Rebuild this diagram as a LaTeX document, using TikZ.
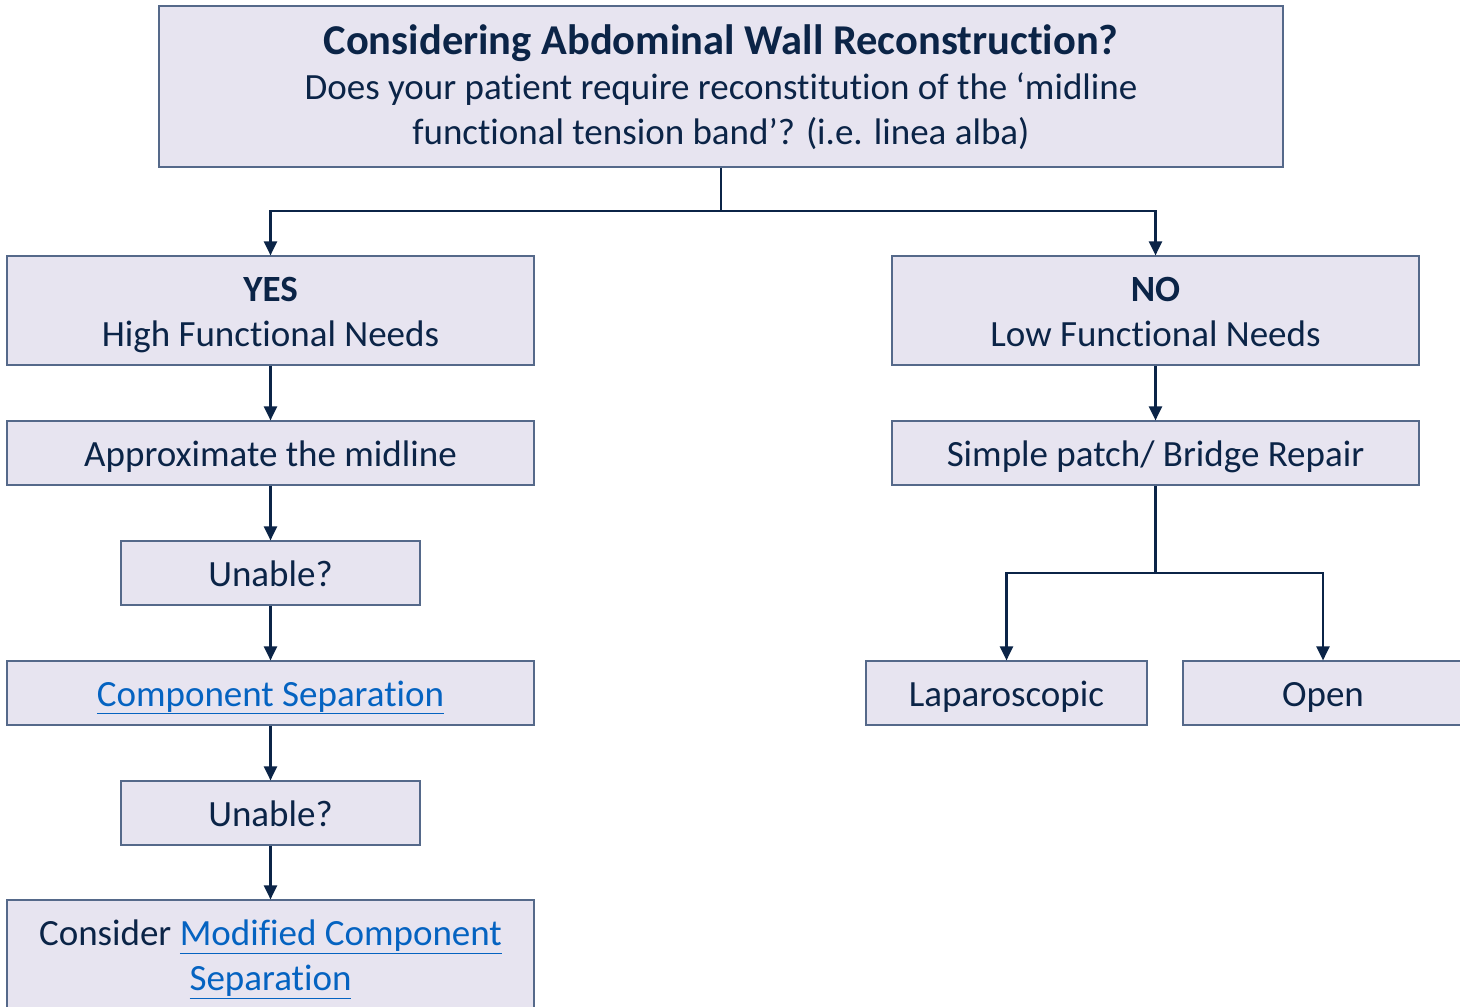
\documentclass[tikz,border=0pt]{standalone}
\usepackage{fontspec}
\setmainfont[Ligatures={NoCommon}]{Carlito}
\usetikzlibrary{arrows.meta}
\definecolor{boxfill}{HTML}{E7E4F0}
\definecolor{boxdraw}{HTML}{55698A}
\definecolor{navy}{HTML}{0B2447}
\definecolor{linkc}{HTML}{0563C1}
\newcommand{\lnk}[1]{\textcolor{linkc}{\underline{#1}}}
\newcommand{\st}{\rule[-9pt]{0pt}{44pt}}
\tikzset{
  box/.style={draw=boxdraw, fill=boxfill, line width=1.2pt, text=navy, align=center,
    inner sep=0pt, font=\fontsize{37}{45}\selectfont},
  arr/.style={draw=navy, line width=2.2pt, -{Triangle[length=14pt,width=13pt]}},
  ln/.style={draw=navy, line width=2.2pt}
}
\begin{document}
\begin{tikzpicture}[x=1pt,y=-1pt]
\useasboundingbox (0,0) rectangle (1460,1007);
\clip (0,0) rectangle (1460,1007);
\node[box, minimum width=1124pt, minimum height=161pt] (top) at (721,86.5)
  {\st{\fontsize{42.5}{45}\selectfont\bfseries Considering Abdominal Wall Reconstruction?}\\\st Does your patient require reconstitution of the ‘midline\\\st functional tension band’? (i.e. linea alba)};
\node[box, minimum width=527pt, minimum height=109pt] (yes) at (270.5,310.5)
  {\st\textbf{YES}\\\st High Functional Needs};
\node[box, minimum width=527pt, minimum height=109pt] (no) at (1155.5,310.5)
  {\st\textbf{NO}\\\st Low Functional Needs};
\node[box, minimum width=527pt, minimum height=64pt] (approx) at (270.5,453)
  {\st Approximate the midline};
\node[box, minimum width=299pt, minimum height=64pt] (un1) at (270.5,573)
  {\st Unable?};
\node[box, minimum width=527pt, minimum height=64pt] (comp) at (270.5,693)
  {\st\lnk{Component Separation}};
\node[box, minimum width=299pt, minimum height=64pt] (un2) at (270.5,813)
  {\st Unable?};
\node[box, minimum width=527pt, minimum height=110pt] (mod) at (270.5,955)
  {\st Consider \lnk{Modified Component}\\\st\lnk{Separation}};
\node[box, minimum width=527pt, minimum height=64pt] (simple) at (1155.5,453)
  {\st Simple patch/ Bridge Repair};
\node[box, minimum width=281pt, minimum height=64pt] (lap) at (1006.5,693)
  {\st Laparoscopic};
\node[box, minimum width=280pt, minimum height=64pt] (open) at (1323,693)
  {\st Open};
\coordinate (j1) at (721,211);
\coordinate (j2) at (1155.5,573);
\draw[ln] (top.south) -- (j1);
\draw[arr] (j1) -| (yes.north);
\draw[arr] (j1) -| (no.north);
\draw[arr] (yes) -- (approx);
\draw[arr] (approx) -- (un1);
\draw[arr] (un1) -- (comp);
\draw[arr] (comp) -- (un2);
\draw[arr] (un2) -- (mod);
\draw[arr] (no) -- (simple);
\draw[ln] (simple.south) -- (j2);
\draw[arr] (j2) -| (lap.north);
\draw[arr] (j2) -| (open.north);
\end{tikzpicture}
\end{document}
